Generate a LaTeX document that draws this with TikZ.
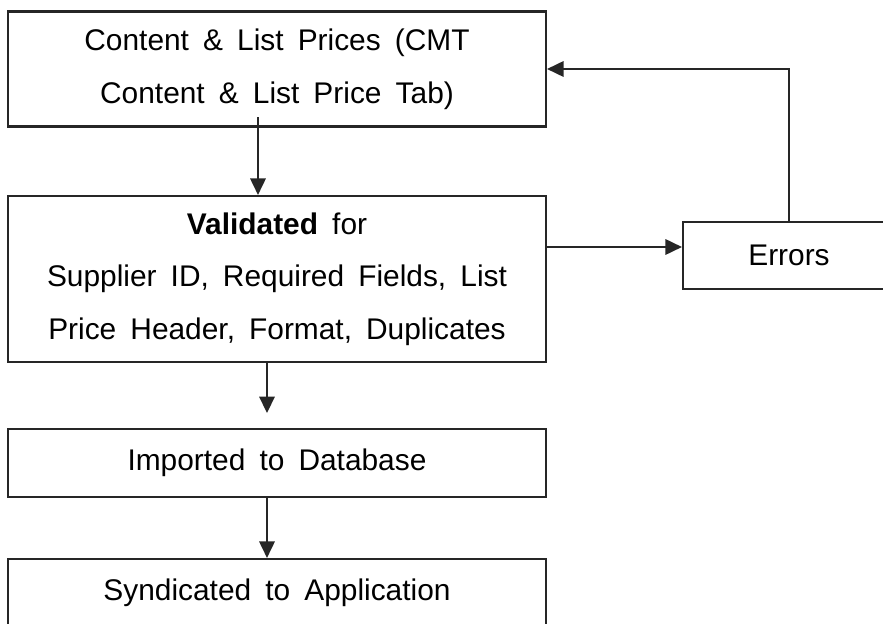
\documentclass[tikz,border=0pt]{standalone}
\usepackage{fontspec}
\setmainfont{Liberation Sans}[WordSpace=1.7]
\usetikzlibrary{arrows.meta}

\begin{document}
\begin{tikzpicture}[>={Triangle[length=3.3mm, width=3.1mm]},
    flowbox/.style={draw=black!85, line width=1.2pt, minimum width=10.76cm, align=center,
        font=\fontsize{17pt}{30pt}\selectfont},
    flowline/.style={->, line width=1pt, black!85}]
    \useasboundingbox (0,0) rectangle (17.66,12.46);
    \clip (0,0) rectangle (17.66,12.46);

    \node[flowbox, minimum height=2.3cm] (content) at (5.54,11.08) {
        Content \& List Prices (CMT\\
        Content \& List Price Tab)
    };
    \node[flowbox, minimum height=3.32cm] (valid) at (5.54,6.88) {
        \textbf{Validated} for\\
        Supplier ID, Required Fields, List\\
        Price Header, Format, Duplicates
    };
    \node[flowbox, minimum height=1.36cm] (import) at (5.54,3.2) {Imported to Database};
    \node[flowbox, minimum height=1.36cm] (syndic) at (5.54,0.6) {Syndicated to Application};
    \node[flowbox, minimum width=4.24cm, minimum height=1.34cm] (errors) at (15.78,7.35) {Errors};

    % main flow
    \coordinate (a1) at ([xshift=-3.8mm, yshift=2.1mm]content.south);
    \draw[flowline] (a1) -- (a1 |- valid.north);
    \coordinate (a2) at ([xshift=-2mm, yshift=-1cm]valid.south);
    \draw[flowline] (a2 |- valid.south) -- (a2);
    \draw[flowline] ([xshift=-2mm]import.south) -- ([xshift=-2mm]syndic.north);

    % error loop
    \coordinate (e1) at ([yshift=1.7mm]errors.west);
    \draw[flowline] (valid.east |- e1) -- (e1);
    \draw[flowline] (errors.north) |- (content.east);
\end{tikzpicture}
\end{document}
